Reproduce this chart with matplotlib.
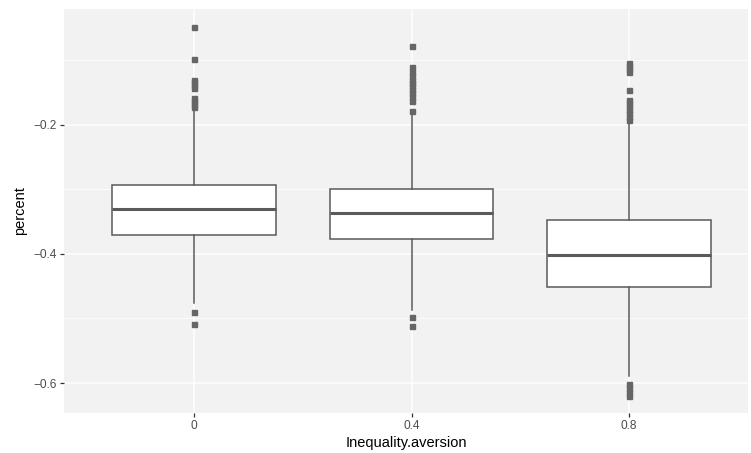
import matplotlib
matplotlib.use("Agg")
import matplotlib.pyplot as plt
from matplotlib.ticker import MultipleLocator

plt.rcParams['font.family'] = ['Liberation Sans', 'DejaVu Sans']

# one box per inequality-aversion level
groups = ["0", "0.4", "0.8"]
q1 = [-0.371, -0.377, -0.451]
median = [-0.330, -0.336, -0.402]
q3 = [-0.293, -0.299, -0.347]
whisker_low = [-0.476, -0.487, -0.589]
whisker_high = [-0.177, -0.184, -0.195]

outliers_0 = [-0.048, -0.098, -0.130, -0.134, -0.138, -0.142,
              -0.158, -0.163, -0.168, -0.172, -0.490, -0.509]
outliers_04 = [-0.078, -0.110, -0.118, -0.124, -0.130, -0.135,
               -0.139, -0.145, -0.151, -0.157, -0.163, -0.178,
               -0.498, -0.512]
outliers_08 = [-0.104, -0.108, -0.113, -0.118, -0.146, -0.161,
               -0.166, -0.171, -0.177, -0.182, -0.187, -0.193,
               -0.601, -0.607, -0.614, -0.620]
outliers = [outliers_0, outliers_04, outliers_08]

stats = []
for i in range(len(groups)):
    stats.append(dict(med=median[i], q1=q1[i], q3=q3[i],
                      whislo=whisker_low[i], whishi=whisker_high[i],
                      fliers=outliers[i]))

fig = plt.figure(figsize=(7.51, 4.53), dpi=100)
ax = fig.add_axes([64 / 751, 40 / 453, 684 / 751, 404 / 453])
ax.set_facecolor("#F2F2F2")

line_col = "#5a5a5a"
ax.bxp(stats, positions=[1, 2, 3], widths=0.75, patch_artist=True,
       showcaps=False,
       boxprops=dict(facecolor="white", edgecolor=line_col, linewidth=1.1),
       medianprops=dict(color=line_col, linewidth=2.2),
       whiskerprops=dict(color=line_col, linewidth=1.1),
       flierprops=dict(marker="s", markersize=3.6, markerfacecolor="#666666",
                       markeredgecolor="#666666", linestyle="none"))

ax.set_xlim(0.402, 3.547)
ax.set_ylim(-0.6465, -0.0202)
ax.set_xticks([1, 2, 3])
ax.set_xticklabels(groups)
ax.set_yticks([-0.6, -0.4, -0.2])
ax.set_yticklabels(["\u22120.6", "\u22120.4", "\u22120.2"])
ax.set_yticks([-0.5, -0.3, -0.1], minor=True)

ax.set_axisbelow(True)
ax.grid(True, which="major", color="white", linewidth=1.1)
ax.grid(True, which="minor", axis="y", color="white", linewidth=0.55)
ax.tick_params(which="major", length=3, width=0.9, color="#333333",
               labelcolor="#4D4D4D", labelsize=8.6, pad=2)
ax.tick_params(which="minor", length=0)
for s in ax.spines.values():
    s.set_visible(False)

ax.set_xlabel("Inequality.aversion", fontsize=10.5, color="black", labelpad=3)
ax.set_ylabel("percent", fontsize=10.5, color="black", labelpad=5)

fig.savefig("out.png", dpi=100)
